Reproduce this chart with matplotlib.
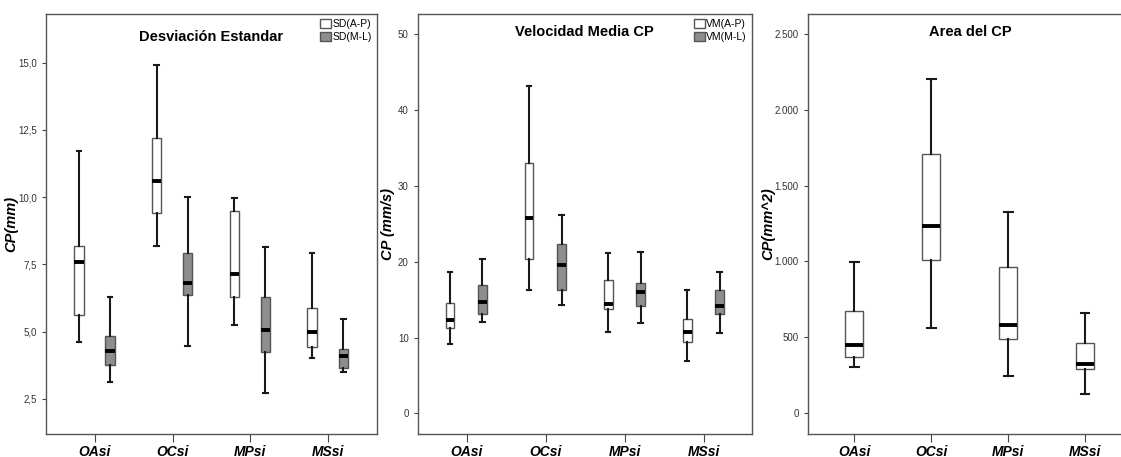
import matplotlib.pyplot as plt
from matplotlib.patches import Patch
import numpy as np

plt.rcParams['font.family'] = ['Liberation Sans Narrow', 'Liberation Sans', 'DejaVu Sans']

categorias = ['OAsi', 'OCsi', 'MPsi', 'MSsi']

# Desviación estándar (mm): mínimo, Q1, mediana, Q3, máximo
sd_ap_min = [4.63, 8.19, 5.24, 4.01]
sd_ap_q1 = [5.61, 9.41, 6.27, 4.44]
sd_ap_med = [7.60, 10.60, 7.15, 4.99]
sd_ap_q3 = [8.19, 12.19, 9.48, 5.87]
sd_ap_max = [11.71, 14.90, 9.96, 7.94]

sd_ml_min = [3.14, 4.47, 2.70, 3.51]
sd_ml_q1 = [3.76, 6.35, 4.25, 3.63]
sd_ml_med = [4.28, 6.80, 5.06, 4.09]
sd_ml_q3 = [4.84, 7.92, 6.28, 4.37]
sd_ml_max = [6.27, 10.00, 8.16, 5.46]

# Velocidad media (mm/s)
vm_ap_min = [9.1, 16.3, 10.7, 6.9]
vm_ap_q1 = [11.3, 20.4, 13.7, 9.4]
vm_ap_med = [12.3, 25.8, 14.4, 10.7]
vm_ap_q3 = [14.6, 33.0, 17.6, 12.4]
vm_ap_max = [18.7, 43.1, 21.2, 16.3]

vm_ml_min = [12.1, 14.3, 11.9, 10.6]
vm_ml_q1 = [13.1, 16.3, 14.2, 13.1]
vm_ml_med = [14.7, 19.5, 16.0, 14.2]
vm_ml_q3 = [16.9, 22.3, 17.2, 16.2]
vm_ml_max = [20.4, 26.1, 21.3, 18.7]

# Area del CP (mm^2)
area_min = [301, 560, 246, 125]
area_q1 = [369, 1010, 485, 290]
area_med = [448, 1237, 582, 320]
area_q3 = [670, 1707, 962, 459]
area_max = [999, 2206, 1329, 663]

NARROW = ['Liberation Sans Narrow', 'Liberation Sans', 'DejaVu Sans']
WIDE = ['Liberation Sans', 'DejaVu Sans']


def stats(mn, q1, med, q3, mx):
    return [dict(whislo=a, q1=b, med=c, q3=d, whishi=e, fliers=[])
            for a, b, c, d, e in zip(mn, q1, med, q3, mx)]


def cajas(ax, st, pos, ancho, color):
    ax.bxp(st, positions=pos, widths=ancho, patch_artist=True, showfliers=False,
           boxprops=dict(facecolor=color, edgecolor='#555555', linewidth=1),
           medianprops=dict(color='black', linewidth=2.8),
           whiskerprops=dict(color='#1a1a1a', linewidth=1.5),
           capprops=dict(color='#1a1a1a', linewidth=1.5),
           manage_ticks=False)


def estilo(ax, xlim, ylim, yticks, fmt, ylabel, labx, titulo, ty):
    ax.set_xlim(*xlim)
    ax.set_ylim(*ylim)
    ax.set_xticks(x)
    ax.set_xticklabels(categorias, fontsize=10, fontweight='bold', style='italic',
                       family=NARROW)
    ax.set_yticks(yticks)
    ax.set_yticklabels([fmt(v) for v in yticks], fontsize=7, color='#333333')
    ax.tick_params(axis='y', direction='out', length=3, color='#444444')
    ax.tick_params(axis='x', direction='out', length=6, color='#444444', pad=2)
    for s in ax.spines.values():
        s.set_color('#555555')
        s.set_linewidth(1)
    ax.set_ylabel(ylabel, fontsize=10.5, fontweight='bold', style='italic', family=WIDE)
    ax.yaxis.set_label_coords(labx, 0.5)
    ax.text(0.5, ty, titulo, transform=ax.transAxes, ha='center', va='center',
            fontsize=10.5, fontweight='bold', family=NARROW)


def leyenda(ax, etiquetas):
    ax.legend(handles=[Patch(facecolor='white', edgecolor='#555555', label=etiquetas[0]),
                       Patch(facecolor=gris, edgecolor='#555555', label=etiquetas[1])],
              loc='upper right', frameon=False, handlelength=1.0,
              handleheight=1.0, handletextpad=0.15, labelspacing=0.3, borderaxespad=0.1,
              prop=dict(family=NARROW, size=7.5))


x = np.arange(1, 5)
gris = '#8e8e8e'

fig = plt.figure(figsize=(11.21, 4.57), dpi=100)
ax1 = fig.add_axes([0.041, 0.0503, 0.2953, 0.920])
ax2 = fig.add_axes([0.3726, 0.0503, 0.2982, 0.920])
ax3 = fig.add_axes([0.7205, 0.0503, 0.2893, 0.920])

# Panel 1
cajas(ax1, stats(sd_ap_min, sd_ap_q1, sd_ap_med, sd_ap_q3, sd_ap_max), x - 0.205, 0.12, 'white')
cajas(ax1, stats(sd_ml_min, sd_ml_q1, sd_ml_med, sd_ml_q3, sd_ml_max), x + 0.195, 0.12, gris)
estilo(ax1, (0.37, 4.63), (1.19, 16.83), [2.5, 5.0, 7.5, 10.0, 12.5, 15.0],
       lambda v: f'{v:.1f}'.replace('.', ','), 'CP(mm)', -0.085,
       'Desviación Estandar', 0.944)
leyenda(ax1, ['SD(A-P)', 'SD(M-L)'])

# Panel 2
cajas(ax2, stats(vm_ap_min, vm_ap_q1, vm_ap_med, vm_ap_q3, vm_ap_max), x - 0.207, 0.105, 'white')
cajas(ax2, stats(vm_ml_min, vm_ml_q1, vm_ml_med, vm_ml_q3, vm_ml_max), x + 0.2, 0.105, gris)
estilo(ax2, (0.38, 4.61), (-2.72, 52.7), [0, 10, 20, 30, 40, 50],
       lambda v: f'{v:d}', 'CP (mm/s)', -0.068, 'Velocidad Media CP', 0.955)
leyenda(ax2, ['VM(A-P)', 'VM(M-L)'])

# Panel 3
cajas(ax3, stats(area_min, area_q1, area_med, area_q3, area_max), x, 0.23, 'white')
estilo(ax3, (0.394, 4.61), (-139, 2636), [0, 500, 1000, 1500, 2000, 2500],
       lambda v: f'{v:,d}'.replace(',', '.'), 'CP(mm^2)', -0.10, 'Area del CP', 0.955)

fig.savefig('out.png', dpi=100)
